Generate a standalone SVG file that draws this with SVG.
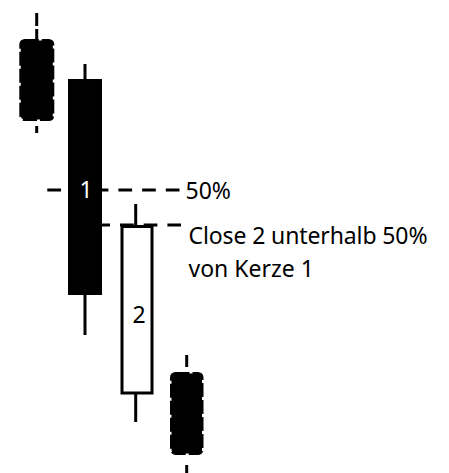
<svg xmlns="http://www.w3.org/2000/svg" width="449" height="473" viewBox="0 0 449 473">
<style>
.lbl{font-family:"Noto Sans","Open Sans",sans-serif;font-size:23px;fill:#000}
.wick{stroke:#000;stroke-width:3;fill:none}
.dash{stroke:#000;stroke-width:3;fill:none;stroke-dasharray:13.7 10}
.ghost{fill:#000;stroke:#000;stroke-width:3;stroke-dasharray:14 3}
</style>
<rect width="449" height="473" fill="#fff"/>
<g id="connectors">
<line class="dash" x1="47.3" y1="190" x2="180" y2="190"/>
<line class="dash" x1="102" y1="225" x2="181" y2="225" stroke-dashoffset="5.7"/>
</g>
<g id="candle0">
<line class="wick" x1="36.7" y1="13" x2="36.7" y2="26"/>
<line class="wick" x1="36.7" y1="29" x2="36.7" y2="40"/>
<line class="wick" x1="36.7" y1="126" x2="36.7" y2="133"/>
<rect class="ghost" x="20.8" y="40.5" width="32" height="79" rx="4"/>
</g>
<g id="candle1">
<line class="wick" x1="85" y1="64" x2="85" y2="335"/>
<rect x="68" y="79" width="34" height="216" fill="#000"/>
<text class="lbl" x="86" y="198" text-anchor="middle" style="fill:#fff">1</text>
</g>
<g id="candle2">
<line class="wick" x1="135.7" y1="204" x2="135.7" y2="226"/>
<line class="wick" x1="135.7" y1="393" x2="135.7" y2="422"/>
<rect x="122" y="226.5" width="30" height="166.5" fill="#fff" stroke="#000" stroke-width="3"/>
<text class="lbl" x="139" y="323" text-anchor="middle">2</text>
</g>
<g id="candle3">
<line class="wick" x1="186.7" y1="355" x2="186.7" y2="367"/>
<line class="wick" x1="186.7" y1="465" x2="186.7" y2="473"/>
<rect class="ghost" x="171.5" y="373.5" width="30.5" height="80" rx="4"/>
</g>
<g id="labels">
<text class="lbl" x="185.5" y="199">50%</text>
<text class="lbl" x="188.5" y="244" textLength="239">Close 2 unterhalb 50%</text>
<text class="lbl" x="188.5" y="277">von Kerze 1</text>
</g>
</svg>
